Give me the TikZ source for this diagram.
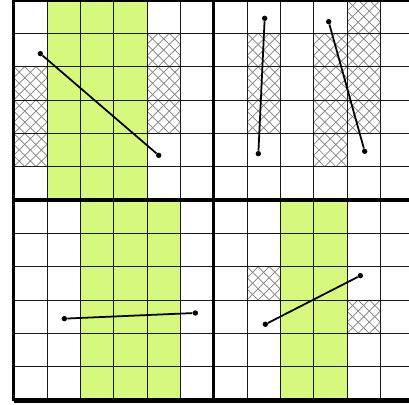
\documentclass[tikz,border=0pt]{standalone}
\usepackage{tikz}
\usepackage{xcolor}
\definecolor{lime}{RGB}{214,248,124}
\tikzset{
  gridline/.style={draw=black!90, line width=0.8pt},
  border/.style={draw=black, line width=2.6pt},
  seg/.style={draw=black, line width=1.5pt},
  dot/.style={circle, fill=black, inner sep=0pt, minimum size=4.6pt},
  hatch/.style={draw=black!50, line width=0.6pt}
}
\newcommand{\hatchcell}[2]{%
  \begin{scope}
    \clip (#1,#2) rectangle ++(1,1);
    \foreach \k in {-1,-0.6667,-0.3333,0,0.3333,0.6667,1} {
      \draw[hatch] (#1+\k,#2) -- ++(1,1);
      \draw[hatch] (#1+\k,#2+1) -- ++(1,-1);
    }
  \end{scope}}

\begin{document}
\begin{tikzpicture}[scale=1.0]
    \useasboundingbox (-0.411,-0.15) rectangle (11.86,12);
    \clip (-0.411,-0.15) rectangle (11.86,12);

    % Green columns
    \fill[lime] (1,6) rectangle (4,12);
    \fill[lime] (2,0) rectangle (5,6);
    \fill[lime] (8,0) rectangle (10,6);

    % Hatched cells
    \foreach \y in {7,8,9} { \hatchcell{0}{\y} }
    \foreach \y in {8,9,10} { \hatchcell{4}{\y} }
    \foreach \y in {8,9,10} { \hatchcell{7}{\y} }
    \foreach \y in {7,8,9,10} { \hatchcell{9}{\y} }
    \foreach \y in {8,9,10,11} { \hatchcell{10}{\y} }
    \hatchcell{7}{3}
    \hatchcell{10}{2}

    % Grid
    \draw[gridline] (0,0) grid (12,12);
    \draw[border] (0,0) rectangle (12,12);
    \draw[border, line width=4pt] (0,-0.03) -- (12,-0.03);
    \draw[border] (6,0) -- (6,12);
    \draw[border] (0,6) -- (12,6);

    % Segments
    \node[dot] (tla) at (0.80,10.39) {};
    \node[dot] (tlb) at (4.35,7.34) {};
    \node[dot] (tra) at (7.53,11.45) {};
    \node[dot] (trb) at (7.34,7.39) {};
    \node[dot] (trc) at (9.45,11.35) {};
    \node[dot] (trd) at (10.53,7.46) {};
    \node[dot] (bla) at (1.52,2.44) {};
    \node[dot] (blb) at (5.45,2.61) {};
    \node[dot] (bra) at (7.55,2.27) {};
    \node[dot] (brb) at (10.40,3.73) {};
    \draw[seg] (tla) -- (tlb);
    \draw[seg] (tra) -- (trb);
    \draw[seg] (trc) -- (trd);
    \draw[seg] (bla) -- (blb);
    \draw[seg] (bra) -- (brb);
\end{tikzpicture}
\end{document}
